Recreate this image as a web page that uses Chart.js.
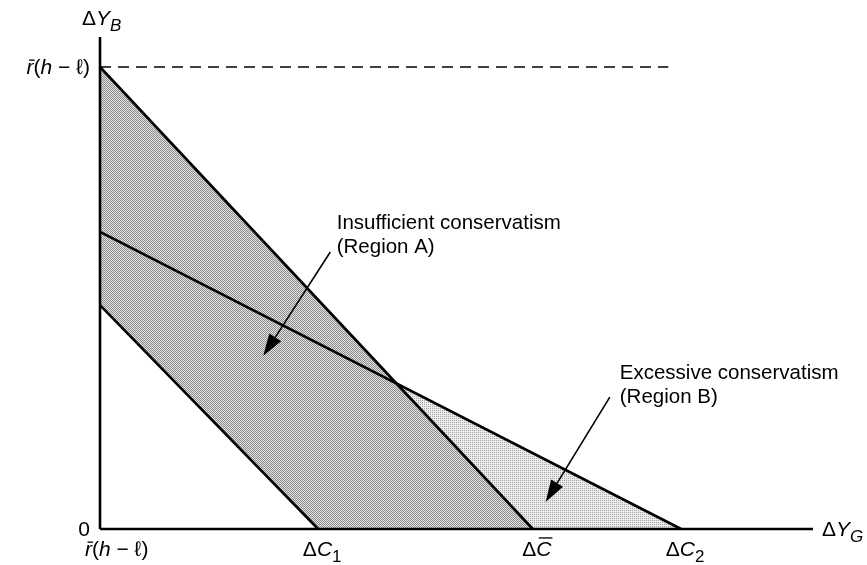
<!DOCTYPE html>
<html>
<head>
<meta charset="utf-8">
<script src="https://cdn.jsdelivr.net/npm/chart.js@4.4.1/dist/chart.umd.min.js"></script>
<style>
  html, body { margin: 0; padding: 0; background: #ffffff; }
  #wrap { position: relative; width: 867px; height: 565px; }
</style>
</head>
<body>
<div id="wrap"><canvas id="c"></canvas></div>
<script>
// ---------------- data (arbitrary units) ----------------
const X_MAX = 10;                 // end of the ΔY_G axis
const Y_MAX = 10;                 // end of the ΔY_B axis
const rBarHL = 9.39;              // r̄(h−ℓ) on the ΔY_B axis
const dashedEndX = 7.97;          // end of the dashed r̄(h−ℓ) line
const lineNames       = ['lower', 'upper', 'middle'];
const lineYIntercepts = [4.55, 9.39, 6.04];   // on the ΔY_B axis
const lineXIntercepts = [3.06, 6.07, 8.15];   // ΔC1, ΔC̄, ΔC2 on the ΔY_G axis
const xTickValues = [0, 3.06, 6.07, 8.15];
const xTickLabels = ['r̄(h−ℓ)', 'ΔC1', 'ΔC̄', 'ΔC2'];
const yTickValues = [0, 9.39];
const yTickLabels = ['0', 'r̄(h−ℓ)'];
const annotationTexts = [
  ['Insufficient conservatism', '(Region A)'],
  ['Excessive conservatism', '(Region B)']
];
// annotation anchors in data units: text first-line centre, arrow start, arrow tip
const annotationText  = [[3.32, 6.22], [7.29, 3.17]];
const annotationArrowFrom = [[3.23, 5.63], [7.15, 2.68]];
const annotationArrowTo   = [[2.29, 3.52], [6.25, 0.55]];

// ---------------- helpers ----------------
function pt(x, y) { return {x: x, y: y}; }
function intersect(a1, b1, a2, b2) {
  // lines y = a(1 - x/b)
  const s1 = -a1 / b1, s2 = -a2 / b2;
  const x = (a2 - a1) / (s1 - s2);
  return pt(x, a1 + s1 * x);
}
function makePattern(bg, dot, mode) {
  const c = document.createElement('canvas');
  c.width = 2; c.height = 2;
  const g = c.getContext('2d');
  g.fillStyle = bg; g.fillRect(0, 0, 2, 2);
  g.fillStyle = dot;
  if (mode === 'checker') { g.fillRect(0, 0, 1, 1); g.fillRect(1, 1, 1, 1); }
  else { g.fillRect(0, 0, 1, 1); }
  return g.createPattern(c, 'repeat');
}
const darkPattern = makePattern('#e2e2e2', '#8c8c8c', 'checker');
const lightPattern = makePattern('#ececec', '#a4a4a4', 'single');

const lowerI = 0, upperI = 1, middleI = 2;
const crossPt = intersect(lineYIntercepts[upperI], lineXIntercepts[upperI],
                          lineYIntercepts[middleI], lineXIntercepts[middleI]);

const bandShape = [
  pt(0, lineYIntercepts[upperI]), pt(lineXIntercepts[upperI], 0),
  pt(lineXIntercepts[lowerI], 0), pt(0, lineYIntercepts[lowerI]),
  pt(0, lineYIntercepts[upperI])
];
const regionBShape = [
  crossPt, pt(lineXIntercepts[middleI], 0), pt(lineXIntercepts[upperI], 0), crossPt
];

function lineDS(points, width, dash, order) {
  return {
    data: points, showLine: true, pointRadius: 0, borderColor: '#000',
    borderWidth: width, borderDash: dash || [], fill: false, order: order,
    clip: false, tension: 0
  };
}
function fillDS(points, pattern, order) {
  return {
    data: points, showLine: true, pointRadius: 0, borderWidth: 0,
    borderColor: 'rgba(0,0,0,0)', backgroundColor: pattern, fill: 'shape',
    order: order, clip: false, tension: 0
  };
}

const datasets = [];
datasets.push(fillDS(bandShape, darkPattern, 20));
datasets.push(fillDS(regionBShape, lightPattern, 19));
lineNames.forEach(function (n, i) {
  datasets.push(lineDS([pt(0, lineYIntercepts[i]), pt(lineXIntercepts[i], 0)], 2.6, null, 2));
});
datasets.push(lineDS([pt(0, rBarHL), pt(dashedEndX, rBarHL)], 1.4, [11, 7], 3));
datasets.push(lineDS([pt(0, 0), pt(X_MAX, 0)], 2.6, null, 1));
datasets.push(lineDS([pt(0, 0), pt(0, Y_MAX)], 2.6, null, 1));

// ---------------- rich text ----------------
const FONT = '"Liberation Sans", Arial, Helvetica, sans-serif';
function parseLabel(s) {
  const parts = [];
  const chars = Array.from(s);
  for (let k = 0; k < chars.length; k++) {
    const ch = chars[k];
    if (ch === '\u0304') { parts[parts.length - 1].bar = true; continue; }
    if (/[0-9]/.test(ch) && k > 0 && /[A-Za-z\u0304]/.test(chars[k - 1])) {
      parts.push({t: ch, sub: true}); continue;
    }
    if (/[A-Za-z]/.test(ch)) { parts.push({t: ch, it: true}); continue; }
    if (ch === '−') { parts.push({t: ' \u2212 '}); continue; }
    parts.push({t: ch});
  }
  return parts;
}
function partFont(p, size) {
  const sz = p.sub ? Math.round(size * 0.8) : size;
  return (p.it ? 'italic ' : '') + sz + 'px ' + FONT;
}
function drawRich(ctx, parts, x, y, align, size) {
  let w = 0;
  parts.forEach(function (p) { ctx.font = partFont(p, size); p.w = ctx.measureText(p.t).width; w += p.w; });
  let cx = align === 'center' ? x - w / 2 : (align === 'right' ? x - w : x);
  ctx.textBaseline = 'alphabetic';
  ctx.textAlign = 'left';
  parts.forEach(function (p) {
    ctx.font = partFont(p, size);
    const yy = p.sub ? y + size * 0.3 : y;
    ctx.fillText(p.t, cx, yy);
    if (p.bar) {
      const top = /[A-Z]/.test(p.t) ? y - size * 0.86 : y - size * 0.66;
      ctx.save(); ctx.lineWidth = 1.3; ctx.strokeStyle = '#000';
      ctx.beginPath(); ctx.moveTo(cx + size * 0.12, top); ctx.lineTo(cx + p.w + size * 0.05, top); ctx.stroke();
      ctx.restore();
    }
    cx += p.w;
  });
}

const labelPlugin = {
  id: 'labels',
  afterDraw: function (chart) {
    const ctx = chart.ctx, xs = chart.scales.x, ys = chart.scales.y;
    const size = 21;
    ctx.save();
    ctx.fillStyle = '#000';
    xTickValues.forEach(function (v, i) {
      const px = xs.getPixelForValue(v);
      const parts = parseLabel(xTickLabels[i]);
      if (i === 0) drawRich(ctx, parts, px - 15, ys.getPixelForValue(0) + 27, 'left', size);
      else drawRich(ctx, parts, px + 4, ys.getPixelForValue(0) + 27, 'center', size);
    });
    yTickValues.forEach(function (v, i) {
      const py = ys.getPixelForValue(v);
      drawRich(ctx, parseLabel(yTickLabels[i]), xs.getPixelForValue(0) - 10, py + 7, 'right', size);
    });
    drawRich(ctx, parseLabel('ΔY').concat([{t: 'B', it: true, sub: true}]),
      xs.getPixelForValue(0) - 18, ys.getPixelForValue(Y_MAX) - 12, 'left', size);
    drawRich(ctx, parseLabel('ΔY').concat([{t: 'G', it: true, sub: true}]),
      xs.getPixelForValue(X_MAX) + 9, ys.getPixelForValue(0) + 7, 'left', size);
    annotationTexts.forEach(function (lines, i) {
      const tx = xs.getPixelForValue(annotationText[i][0]);
      const ty = ys.getPixelForValue(annotationText[i][1]);
      ctx.font = '20.5px ' + FONT;
      ctx.textAlign = 'left'; ctx.textBaseline = 'middle';
      lines.forEach(function (l, k) { ctx.fillText(l, tx, ty + k * 24); });
      const x1 = xs.getPixelForValue(annotationArrowFrom[i][0]), y1 = ys.getPixelForValue(annotationArrowFrom[i][1]);
      const x2 = xs.getPixelForValue(annotationArrowTo[i][0]), y2 = ys.getPixelForValue(annotationArrowTo[i][1]);
      const ang = Math.atan2(y2 - y1, x2 - x1);
      const L = 22, H = 7;
      const bx = x2 - L * Math.cos(ang), by = y2 - L * Math.sin(ang);
      ctx.strokeStyle = '#000'; ctx.lineWidth = 1.6;
      ctx.beginPath(); ctx.moveTo(x1, y1); ctx.lineTo(bx, by); ctx.stroke();
      ctx.beginPath();
      ctx.moveTo(x2, y2);
      ctx.lineTo(bx + H * Math.sin(ang), by - H * Math.cos(ang));
      ctx.lineTo(bx - H * Math.sin(ang), by + H * Math.cos(ang));
      ctx.closePath(); ctx.fill();
    });
    ctx.restore();
  }
};

new Chart(document.getElementById('c'), {
  type: 'scatter',
  data: { datasets: datasets },
  plugins: [labelPlugin],
  options: {
    responsive: true,
    maintainAspectRatio: false,
    animation: false,
    layout: { padding: { left: 100, right: 54, top: 37, bottom: 36 } },
    plugins: { legend: { display: false }, tooltip: { enabled: false } },
    scales: {
      x: { type: 'linear', min: 0, max: X_MAX, display: false },
      y: { type: 'linear', min: 0, max: Y_MAX, display: false }
    }
  }
});
</script>
</body>
</html>
